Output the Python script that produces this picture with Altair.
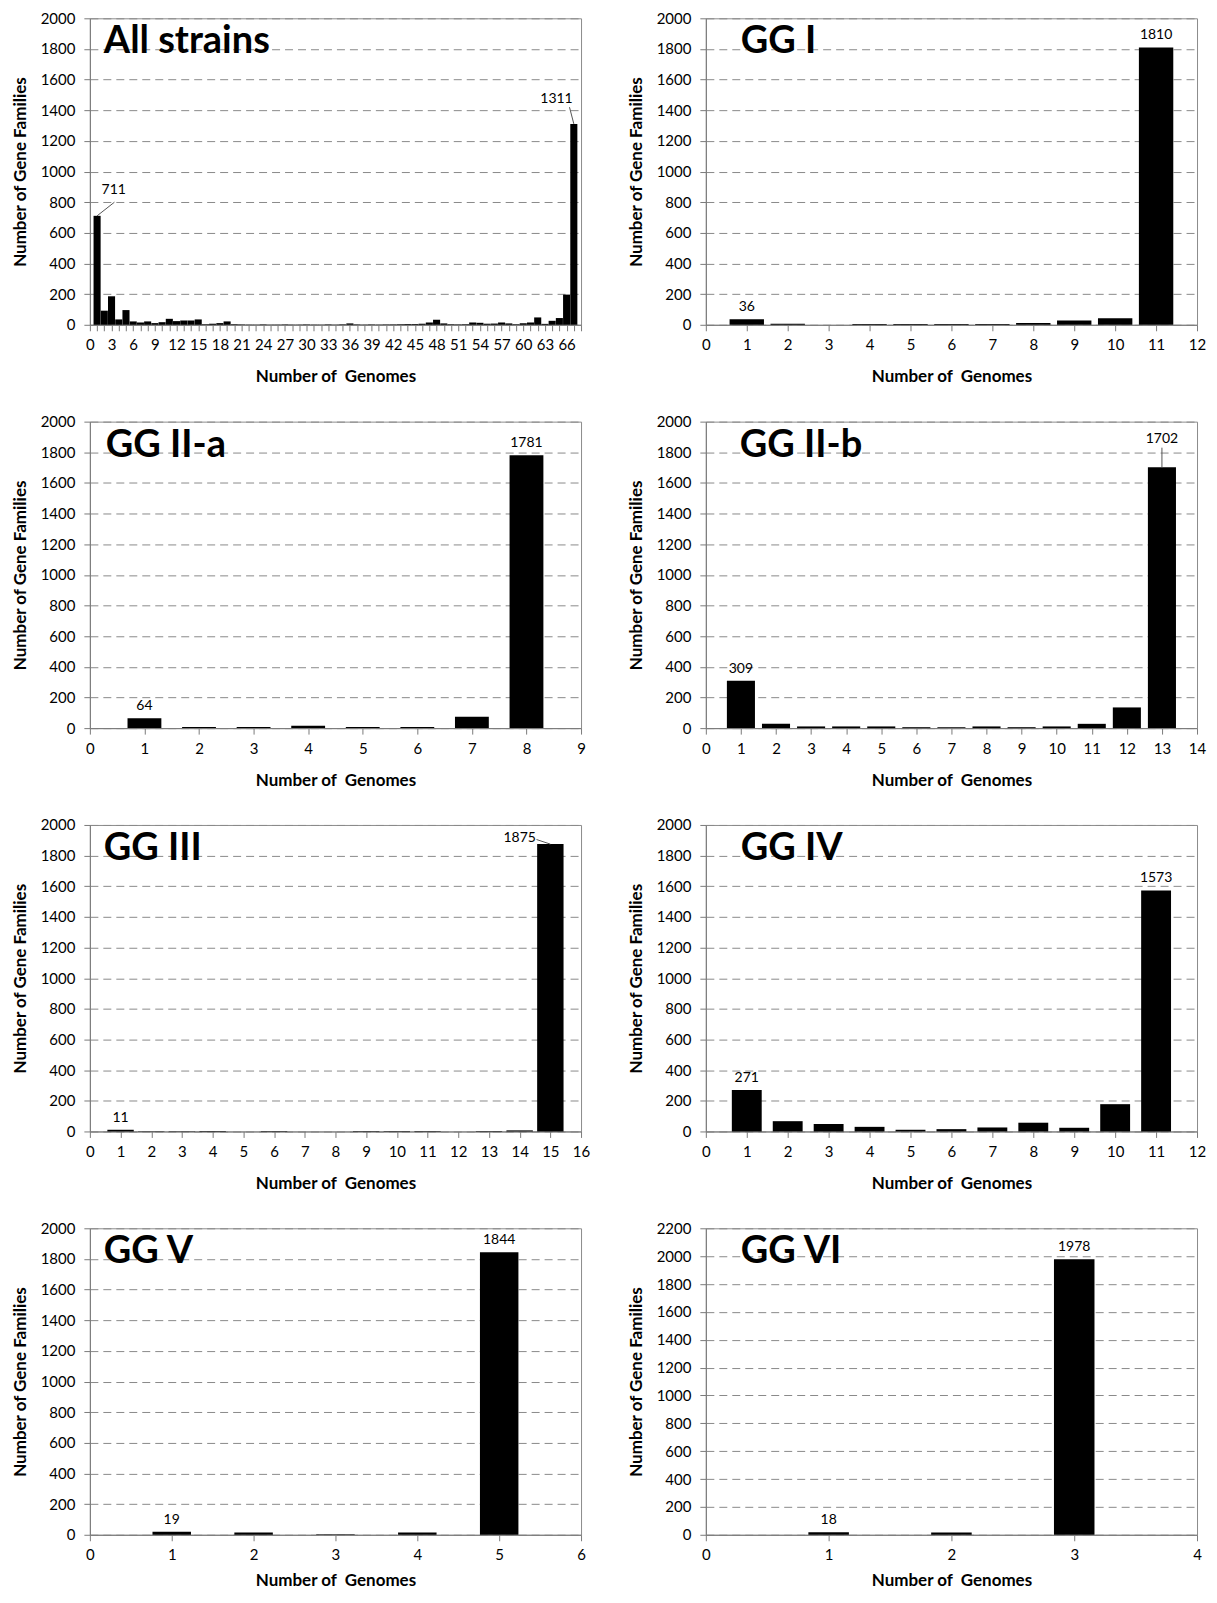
import altair as alt
import pandas as pd

FONT = "Lato"

# ---------------- data ----------------
all_vals = [711, 92, 186, 35, 96, 22, 15, 22, 11, 17,
            39, 24, 28, 28, 35, 4, 7, 11, 22, 4,
            3, 2, 2, 3, 2, 2, 3, 2, 2, 3,
            2, 2, 3, 2, 4, 9, 3, 2, 3, 2,
            3, 3, 4, 5, 5, 7, 15, 33, 9, 4,
            3, 4, 15, 13, 7, 8, 15, 9, 4, 10,
            15, 48, 6, 26, 44, 197, 1311]
gg1_vals = [36, 6, 0, 5, 5, 5, 5, 12, 28, 43, 1810]
gg2a_vals = [64, 8, 8, 15, 8, 8, 74, 1781]
gg2b_vals = [309, 28, 11, 11, 11, 6, 6, 11, 6, 11, 28, 135, 1702]
gg3_vals = [11, 2, 2, 3, 0, 3, 0, 0, 3, 3, 3, 0, 3, 7, 1875]
gg4_vals = [271, 67, 48, 30, 11, 15, 26, 57, 24, 178, 1573]
gg5_vals = [19, 15, 4, 15, 1844]
gg6_vals = [18, 17, 1978]

titles = ["All strains", "GG I", "GG II-a", "GG II-b", "GG III", "GG IV", "GG V", "GG VI"]
series = [all_vals, gg1_vals, gg2a_vals, gg2b_vals, gg3_vals, gg4_vals, gg5_vals, gg6_vals]
x_max = [68, 12, 9, 14, 16, 12, 6, 4]
y_max = [2000, 2000, 2000, 2000, 2000, 2000, 2000, 2200]
label_every = [3, 1, 1, 1, 1, 1, 1, 1]
# genomes whose bars carry a plain value label
plain_labels = [[], [1, 11], [1, 8], [1], [1], [1, 11], [1, 5], [1, 3]]
# labels with leader lines: (genome, label x, label y, line start x, line start y)
leader_labels = [
    [(1, 3.3, 880, 3.4, 800), (67, 64.6, 1472, 66.4, 1420)],
    [], [],
    [(13, 13.0, 1885, 13.0, 1830)],
    [(15, 14.0, 1912, 14.55, 1905)],
    [], [], [],
]
bar_width = [0.98, 0.84, 0.62, 0.80, 0.86, 0.73, 0.47, 0.33]
title_x = [14, 35, 16, 34, 14, 35, 14, 35]

W, H = 492, 307
XT = "Number of\u00a0 Genomes"
YT = "Number of Gene Families"


def panel(i, x_title_pad=16):
    vals = series[i]
    df = pd.DataFrame({"n": list(range(1, len(vals) + 1)), "v": vals})
    df["x0"] = df["n"] - bar_width[i] / 2
    df["x1"] = df["n"] + bar_width[i] / 2
    xs = alt.Scale(domain=[0, x_max[i]], nice=False, zero=False)
    ys = alt.Scale(domain=[0, y_max[i]], nice=False)
    every = label_every[i]
    xaxis = alt.Axis(
        values=list(range(0, x_max[i] + 1)),
        labelExpr=f"datum.value % {every} == 0 ? datum.label : ''",
        labelOverlap=False, grid=False, title=XT, format="d",
        labelPadding=7, titlePadding=x_title_pad, labelFlush=False,
    )
    yaxis = alt.Axis(
        values=list(range(0, y_max[i] + 1, 200)), title=YT, format="d",
        labelOverlap=False,
        grid=True, gridDash=[8, 5], gridColor="#8a8a8a", gridWidth=1,
        labelPadding=9, titlePadding=11,
    )
    bars = alt.Chart(df).mark_bar(color="black").encode(
        x=alt.X("x0:Q", scale=xs, axis=xaxis),
        x2="x1",
        y=alt.Y("v:Q", scale=ys, axis=yaxis),
        y2=alt.datum(0),
    )
    layers = [bars]
    pl = df[df["n"].isin(plain_labels[i])]
    if len(pl):
        layers.append(
            alt.Chart(pl).mark_text(baseline="bottom", dy=-5, fontSize=14, font=FONT, color="black").encode(
                x=alt.X("n:Q", scale=xs, axis=xaxis),
                y=alt.Y("v:Q", scale=ys, axis=yaxis),
                text=alt.Text("v:Q", format="d"),
            )
        )
    if leader_labels[i]:
        rows = []
        for (n, lx, ly, sx, sy) in leader_labels[i]:
            rows.append({"n": n, "v": vals[n - 1], "lx": lx, "ly": ly, "sx": sx, "sy": sy})
        ldf = pd.DataFrame(rows)
        layers.append(
            alt.Chart(ldf).mark_rule(color="#555555", strokeWidth=1).encode(
                x=alt.X("sx:Q", scale=xs, axis=xaxis), y=alt.Y("sy:Q", scale=ys, axis=yaxis),
                x2="n:Q", y2="v:Q",
            )
        )
        layers.append(
            alt.Chart(ldf).mark_text(baseline="middle", fontSize=14, font=FONT, color="black").encode(
                x=alt.X("lx:Q", scale=xs, axis=xaxis), y=alt.Y("ly:Q", scale=ys, axis=yaxis),
                text=alt.Text("v:Q", format="d"),
            )
        )
    tdf = pd.DataFrame({"t": [titles[i]]})
    layers.append(
        alt.Chart(tdf).mark_text(align="left", baseline="alphabetic", fontSize=38, fontWeight="bold",
                                 font=FONT, color="black").encode(
            text="t:N", x=alt.value(title_x[i]), y=alt.value(35)
        )
    )
    return alt.layer(*layers).properties(width=W, height=H)


panels = [panel(i, 10 if i >= 6 else 16) for i in range(8)]

chart = alt.concat(
    *panels, columns=2, bounds="flush",
    spacing=alt.RowColnumber(row=97, column=125),
).properties(
    padding={"left": 2, "top": 1, "right": 2, "bottom": 0}
).configure_axis(
    labelFont=FONT, titleFont=FONT, labelFontSize=15, titleFontSize=17,
    titleFontWeight="bold", labelColor="black", titleColor="black",
    domainColor="#7a7a7a", tickColor="#7a7a7a", tickSize=6,
).configure_view(stroke="#8c8c8c", strokeWidth=1)

chart.save("out.html", embed_options={"renderer": "svg", "actions": False})
